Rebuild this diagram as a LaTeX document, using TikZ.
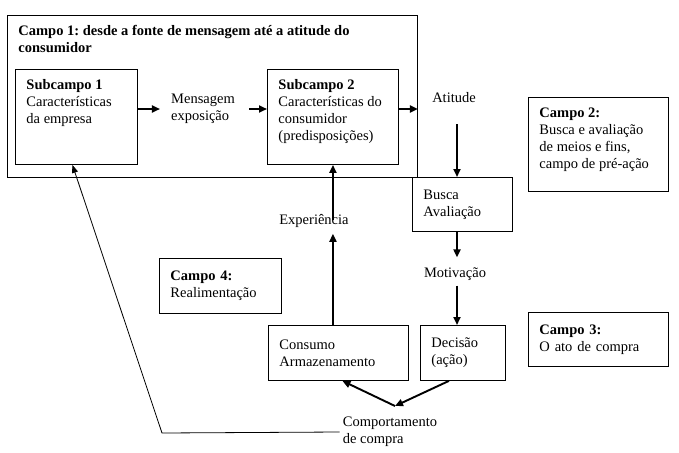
\documentclass[tikz,border=0pt]{standalone}
\usepackage{fontspec}
\setmainfont{Liberation Serif}
\usetikzlibrary{arrows.meta,positioning}
\frenchspacing

\begin{document}
\begin{tikzpicture}[x=1pt,y=-1pt,
  font=\fontsize{14.5}{17}\selectfont,
  box/.style={draw,line width=0.9pt,anchor=north west,align=left,inner xsep=11pt,inner ysep=0pt},
  topbox/.style={draw,line width=0.9pt,anchor=north west,inner xsep=11pt,inner ysep=10pt},
  lbl/.style={align=left,inner sep=3pt},
  arr/.style={-{Triangle[length=8pt,width=7pt]},line width=1.9pt},
  feed/.style={-{Triangle[length=8pt,width=6pt]},line width=0.8pt}]
\useasboundingbox (0,0) rectangle (679,452);
\node[topbox] (campo1) at (7,15) {\parbox[t][142pt][t]{388pt}{\textbf{Campo 1: desde a fonte de mensagem até a atitude do}\\\textbf{consumidor}}};
\node[topbox] (sub1) at (15,69) {\parbox[t][75pt][t]{100pt}{\textbf{Subcampo 1}\\Características\\da empresa}};
\node[topbox] (sub2) at (267,69) {\parbox[t][75pt][t]{109pt}{\textbf{Subcampo 2}\\Características do\\consumidor\\(predisposições)}};
\node[box,text width=78pt,minimum height=54pt] (busca) at (412,177) {Busca\\Avaliação};
\node[box,text width=63pt,minimum height=55pt] (dec) at (420,325) {Decisão\\(ação)};
\node[box,text width=118pt,minimum height=55pt] (cons) at (268,325) {Consumo\\Armazenamento};
\node[topbox] (campo2) at (528,97) {\parbox[t][74pt][t]{118pt}{\textbf{Campo 2:}\\Busca e avaliação\\de meios e fins,\\campo de pré-ação}};
\node[box,text width=118pt,minimum height=54pt] (campo3) at (528,312) {\textbf{Campo 3:}\\O ato de compra};
\node[box,text width=100pt,minimum height=55pt] (campo4) at (159,258) {\textbf{Campo 4:}\\Realimentação};
\node[lbl] (mens) at (203,109) {Mensagem\\exposição};
\node[lbl] (atit) at (454,98) {Atitude};
\node[lbl] (exp) at (314,221) {Experiência};
\node[lbl] (motiv) at (455,274) {Motivação};
\node[lbl] (comp) at (390,432) {Comportamento\\de compra};
\coordinate (col) at (457,0);
\coordinate (junc) at (395,406);
\coordinate (fbc) at (162,433);
\draw[arr,shorten >=8pt] (sub1.east |- mens.west) -- (mens.west);
\draw[arr,shorten <=11pt] (mens.east) -- (sub2.west |- mens.east);
\draw[arr] (sub2.east |- mens.east) -- (campo1.east |- mens.east);
\draw[arr,shorten <=18pt] (atit.south -| col) -- (busca.north -| col);
\draw[arr,shorten >=7pt] (busca.south -| col) -- (motiv.north -| col);
\draw[arr,shorten <=2pt] (motiv.south -| col) -- (dec.north -| col);
\draw[arr,shorten >=3pt] (sub2.south |- cons.north) -- (sub2.south |- exp.south);
\draw[arr,shorten <=-9pt] (sub2.south |- exp.north) -- (sub2.south);
\draw[arr] ([xshift=-14pt]dec.south) -- (junc);
\draw[arr] (junc) -- ([xshift=4pt]cons.south);
\draw[feed] (comp.west) -- (fbc) -- ([xshift=-4pt]sub1.south);
\end{tikzpicture}
\end{document}
